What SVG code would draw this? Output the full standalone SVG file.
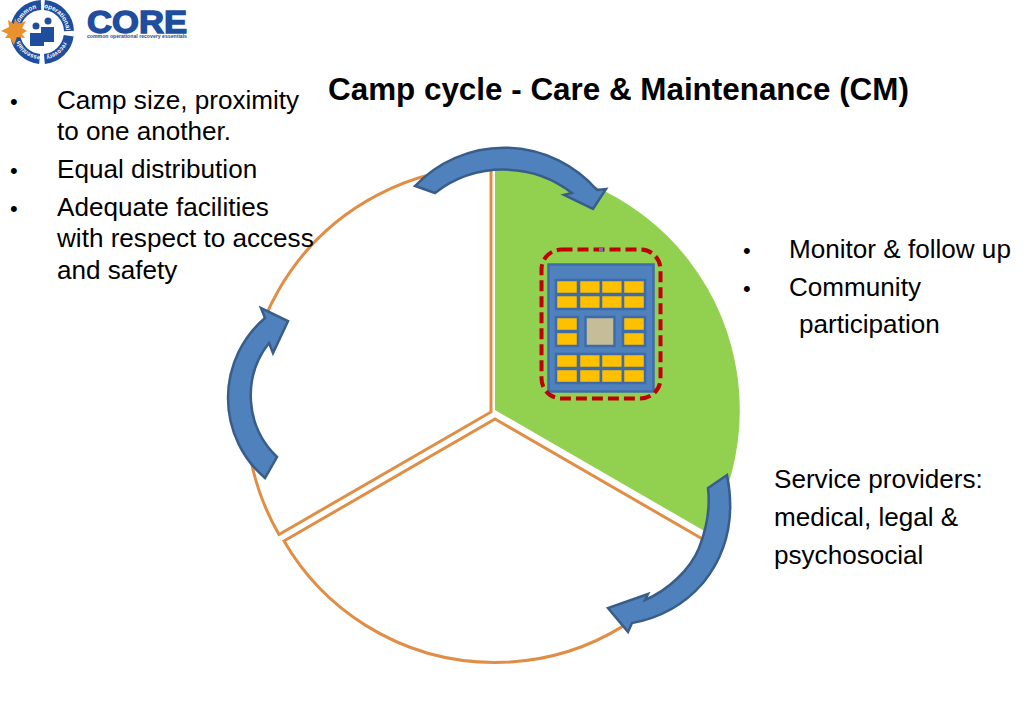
<svg xmlns="http://www.w3.org/2000/svg" width="1023" height="708" viewBox="0 0 1023 708">
<style>
text{font-family:"Liberation Sans",Arial,sans-serif;fill:#000}
.b{font-size:26.100px}
.d{font-size:22px}
.sec{fill:#fff;stroke:#E08E45;stroke-width:3}
.arr{fill:#4F81BD;stroke:#385D8A;stroke-width:2.5;stroke-linejoin:miter}
.cell{fill:#FFC000;stroke:#3F6CA8;stroke-width:2.500}
.ring{fill:none;stroke:#1F4E9E;stroke-width:10}
.rt{font-size:6.500px;font-weight:bold;fill:#fff}
</style>
<defs>
<path id="rp1" d="M18.800 25.800A24 24 0 0 1 40 8"/>
<path id="rp2" d="M44 8A24 24 0 0 1 66 32"/>
<path id="rp3" d="M63.800 42.100A24 24 0 0 1 44 55.900"/>
<path id="rp4" d="M40 55.900A24 24 0 0 1 18.800 38.200"/>
</defs>
<rect width="1023" height="708" fill="#fff"/>
<g id="logo">
<path class="ring" d="M15.400 27.300A27 27 0 0 1 41 5"/>
<path class="ring" d="M44.400 5.100A27 27 0 0 1 69 31"/>
<path class="ring" d="M68.700 35.800A27 27 0 0 1 44.400 58.900"/>
<path class="ring" d="M39.600 58.900A27 27 0 0 1 15.400 36.700"/>
<text class="rt"><textPath href="#rp1" textLength="26" lengthAdjust="spacingAndGlyphs">common</textPath></text>
<text class="rt"><textPath href="#rp2" textLength="34" lengthAdjust="spacingAndGlyphs">operational</textPath></text>
<text class="rt"><textPath href="#rp3" textLength="23" lengthAdjust="spacingAndGlyphs">recovery</textPath></text>
<text class="rt"><textPath href="#rp4" textLength="27" lengthAdjust="spacingAndGlyphs">essentials</textPath></text>
<polygon points="1,31 9,27 8,20 14,24 15,18 18,24 26,21 22,28 27,31 22,34 25,38 17,37 14,45 10,38 5,38 8,34" fill="#E8912D"/>
<circle cx="36" cy="26" r="3.500" fill="#1F4E9E"/><circle cx="48" cy="21" r="3.500" fill="#1F4E9E"/>
<path fill="#1F4E9E" d="M30 33H41V27H54V42H44V46H30Z"/>
<text x="87" y="33" style="font-size:32px;font-weight:bold;fill:#1F4E9E;stroke:#1F4E9E;stroke-width:1.400" textLength="100" lengthAdjust="spacingAndGlyphs">CORE</text>
<text x="87" y="38" style="font-size:6px;font-weight:bold;fill:#2A4E8A" textLength="100" lengthAdjust="spacingAndGlyphs">common operational recovery essentials</text>
</g>
<text id="title" x="328" y="100" style="font-size:31.400px;font-weight:bold">Camp cycle - Care &amp; Maintenance (CM)</text>
<g id="sector-green"><path d="M495 410V165A245 245 0 0 1 707 532.500Z" fill="#92D050"/></g>
<g id="sector-left"><path class="sec" d="M491 412V167A245 245 0 0 0 279 534.500Z"/></g>
<g id="sector-bottom"><path class="sec" d="M495 419L706 541A244 244 0 0 1 284 541Z"/></g>
<g id="camp">
<rect x="548.500" y="264.500" width="105" height="127" fill="#4F81BD" stroke="#3F6CA8" stroke-width="2.500"/>
<g id="cells">
<rect class="cell" x="556" y="280" width="22" height="14"/><rect class="cell" x="579" y="280" width="22" height="14"/><rect class="cell" x="601" y="280" width="22" height="14"/><rect class="cell" x="623" y="280" width="22" height="14"/>
<rect class="cell" x="556" y="295" width="22" height="14"/><rect class="cell" x="579" y="295" width="22" height="14"/><rect class="cell" x="601" y="295" width="22" height="14"/><rect class="cell" x="623" y="295" width="22" height="14"/>
<rect class="cell" x="556" y="317" width="22" height="14"/><rect class="cell" x="556" y="332" width="22" height="14"/><rect class="cell" x="623" y="317" width="22" height="14"/><rect class="cell" x="623" y="332" width="22" height="14"/>
<rect x="585.500" y="317" width="29" height="29" fill="#C4BD97" stroke="#3F6CA8" stroke-width="2.500"/>
<rect class="cell" x="556" y="354" width="22" height="14"/><rect class="cell" x="579" y="354" width="22" height="14"/><rect class="cell" x="601" y="354" width="22" height="14"/><rect class="cell" x="623" y="354" width="22" height="14"/>
<rect class="cell" x="556" y="369" width="22" height="14"/><rect class="cell" x="579" y="369" width="22" height="14"/><rect class="cell" x="601" y="369" width="22" height="14"/><rect class="cell" x="623" y="369" width="22" height="14"/>
</g>
<rect x="541.500" y="249.500" width="119" height="149" rx="20" fill="none" stroke="#C00000" stroke-width="4" stroke-dasharray="11 5"/>
<rect x="599" y="248" width="4" height="3" fill="#7F6FA0"/>
</g>
<g id="connectors">
<path class="arr" d="M415 186A123 123 0 0 1 597 190L606 189L593 209L564 195L572 193A112 112 0 0 0 435 193Z"/>
<path class="arr" d="M727 475C735 515 728 552 703 583C683 606 660 618 632 623L628 632L608 608L648 594L645 600C668 590 690 570 699 548C708 525 710 505 708 488Z"/>
<path class="arr" d="M265 478A105 105 0 0 1 265 318L261 308L288 321L273 353L269 343A85 85 0 0 0 277 457Z"/>
</g>
<g id="text-left">
<text class="d" x="10" y="109">•</text><text class="b" x="57" y="109">Camp size, proximity</text>
<text class="b" x="57" y="140">to one another.</text>
<text class="d" x="10" y="178">•</text><text class="b" x="57" y="178">Equal distribution</text>
<text class="d" x="10" y="216">•</text><text class="b" x="57" y="216">Adequate facilities</text>
<text class="b" x="57" y="247">with respect to access</text>
<text class="b" x="57" y="279">and safety</text>
</g>
<g id="text-right">
<text class="d" x="743" y="258">•</text><text class="b" x="789" y="258">Monitor &amp; follow up</text>
<text class="d" x="743" y="296">•</text><text class="b" x="789" y="296">Community</text>
<text class="b" x="799" y="333">participation</text>
</g>
<g id="text-service">
<text class="b" x="774" y="488">Service providers:</text>
<text class="b" x="774" y="526">medical, legal &amp;</text>
<text class="b" x="774" y="564">psychosocial</text>
</g>
</svg>
